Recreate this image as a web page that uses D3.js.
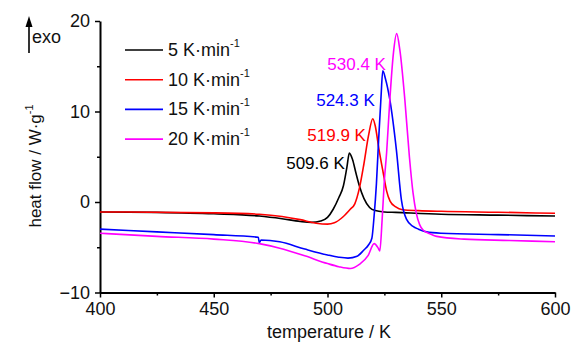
<!DOCTYPE html>
<html>
<head>
<meta charset="utf-8">
<script src="https://cdn.jsdelivr.net/npm/d3@7"></script>
<style>
  body { margin: 0; background: #fff; }
  svg { display: block; font-family: "Liberation Sans", Arial, sans-serif; }
</style>
</head>
<body>
<svg id="chart" width="579" height="343"></svg>
<script>
// heating rates (legend) and colours
var rates = ["5", "10", "15", "20"];
var colors = ["#000000", "#ff0000", "#0000ff", "#ff00ff"];

// DSC curves, [temperature K, heat flow W/g]
var rate5 = [
  [400,-1.1],[425,-1.15],[450,-1.3],[470,-1.55],[480,-1.85],[488,-2.15],[493,-2.25],
  [497,-2.1],[500,-1.7],[502.5,-0.8],[505,0.5],[507,1.8],[508.5,3.8],[509.6,5.4],
  [511,4.7],[512.5,3.2],[514,1.8],[516,0.4],[518.5,-0.6],[521,-0.95],[525,-1.1],
  [530,-1.15],[550,-1.35],[575,-1.45],[600,-1.55]
];
var rate10 = [
  [400,-1.1],[450,-1.2],[470,-1.35],[480,-1.6],[488,-1.95],[495,-2.35],[500,-2.45],
  [503,-2.3],[507,-1.6],[510,-0.8],[512,-0.2],[514,1.5],[516,4.2],[518,7.3],[519.9,9.2],
  [521,8.4],[522.5,6.0],[524.5,3.2],[526,1.2],[527.5,0.1],[530,-0.55],[533,-0.85],
  [540,-0.95],[550,-1.03],[575,-1.13],[600,-1.25]
];
var rate15 = [
  [400,-3.0],[425,-3.3],[450,-3.6],[469.6,-3.9],[470,-4.5],[470.8,-4.2],[479,-4.4],
  [490,-5.2],[500,-5.85],[505,-6.1],[509,-6.2],[513,-6.0],[516,-5.3],[518,-4.75],
  [519.5,-4.0],[520.5,-1.5],[521.5,2.0],[522.5,7.0],[523.5,11.5],[524.3,14.5],
  [525.5,13.6],[527.4,11.3],[530.3,5.7],[532.5,0.2],[534.7,-1.9],[537.6,-2.7],
  [540,-3.0],[543.5,-3.3],[550,-3.45],[575,-3.6],[600,-3.75]
];
var rate20 = [
  [400,-3.45],[425,-3.8],[450,-4.1],[470,-4.6],[479,-5.1],[490,-5.95],[500,-6.8],
  [505,-7.15],[510,-7.35],[514,-6.9],[517.9,-5.9],[520.5,-4.6],[522.3,-5.1],[523,-5.4],
  [524,-2.0],[525,2.4],[526,5.5],[527.4,11.3],[529,16.5],[530.4,18.6],[531.8,16.8],
  [534,11.3],[536,5.0],[537.6,1.0],[539,-1.2],[540.5,-2.5],[542,-3.1],[545,-3.5],
  [548,-3.8],[560,-4.1],[580,-4.25],[600,-4.4]
];
var series = [rate5, rate10, rate15, rate20];

// peak temperature labels, anchored (text end) in data space
var peakLabels = ["509.6 K", "519.9 K", "524.3 K", "530.4 K"];
var peakLabelAt = [[507.6,3.65],[516.9,6.74],[520.8,10.66],[525.7,14.6]];

var xTicks = [400, 450, 500, 550, 600];
var xMinor = [425, 475, 525, 575];
var yTicks = [-10, 0, 10, 20];
var yMinor = [-5, 5, 15];

var svg = d3.select("#chart");
var x = d3.scaleLinear().domain([400, 600]).range([100, 555]);
var y = d3.scaleLinear().domain([-10, 20]).range([292.5, 21]);

// minor ticks
svg.append("g")
  .attr("transform", "translate(0,292.5)")
  .call(d3.axisBottom(x).tickValues(xMinor).tickSize(3).tickSizeOuter(0).tickFormat(""))
  .call(function(g){ g.select(".domain").remove(); });
svg.append("g")
  .attr("transform", "translate(100,0)")
  .call(d3.axisLeft(y).tickValues(yMinor).tickSize(3).tickSizeOuter(0).tickFormat(""))
  .call(function(g){ g.select(".domain").remove(); });

// main axes
var gx = svg.append("g")
  .attr("transform", "translate(0,292.5)")
  .call(d3.axisBottom(x).tickValues(xTicks).tickSize(5).tickSizeOuter(0).tickPadding(5));
var gy = svg.append("g")
  .attr("transform", "translate(100,0)")
  .call(d3.axisLeft(y).tickValues(yTicks).tickSize(5).tickSizeOuter(0).tickPadding(5));

svg.selectAll(".tick line").attr("stroke", "#000").attr("stroke-width", 1.5);
svg.selectAll(".domain").attr("stroke", "#000").attr("stroke-width", 2);
gx.selectAll("text").attr("font-size", 18).attr("fill", "#111").attr("font-family", "Liberation Sans, Arial, sans-serif");
gy.selectAll("text").attr("font-size", 18).attr("fill", "#111").attr("font-family", "Liberation Sans, Arial, sans-serif");

// curves
var line = d3.line()
  .x(function(d){ return x(d[0]); })
  .y(function(d){ return y(d[1]); })
  .curve(d3.curveMonotoneX);

svg.append("g").selectAll("path")
  .data(series)
  .enter().append("path")
  .attr("d", line)
  .attr("fill", "none")
  .attr("stroke", function(d, i){ return colors[i]; })
  .attr("stroke-width", 1.6);

// peak labels
svg.append("g").selectAll("text")
  .data(peakLabels)
  .enter().append("text")
  .attr("x", function(d, i){ return x(peakLabelAt[i][0]); })
  .attr("y", function(d, i){ return y(peakLabelAt[i][1]); })
  .attr("text-anchor", "end")
  .attr("font-size", 17)
  .attr("fill", function(d, i){ return colors[i]; })
  .text(function(d){ return d; });

// legend
var leg = svg.append("g").selectAll("g")
  .data(rates)
  .enter().append("g")
  .attr("transform", function(d, i){ return "translate(125," + (50 + i * 29.7) + ")"; });
leg.append("line")
  .attr("x1", 0).attr("x2", 38)
  .attr("stroke", function(d, i){ return colors[i]; })
  .attr("stroke-width", 1.6);
var lt = leg.append("text")
  .attr("x", 43).attr("y", 6)
  .attr("font-size", 18)
  .attr("fill", "#111");
lt.append("tspan").text(function(d){ return d + " K\u00b7min"; });
lt.append("tspan").attr("dy", -9).attr("font-size", 11).text("-1");

// axis titles
svg.append("text")
  .attr("x", 329).attr("y", 338)
  .attr("text-anchor", "middle")
  .attr("font-size", 18)
  .attr("fill", "#111")
  .text("temperature / K");

var yl = svg.append("text")
  .attr("transform", "translate(41,166) rotate(-90)")
  .attr("text-anchor", "middle")
  .attr("font-size", 17)
  .attr("fill", "#111");
yl.append("tspan").text("heat flow / W\u00b7g");
yl.append("tspan").attr("dy", -8).attr("font-size", 11).text("-1");

// exo arrow
svg.append("line")
  .attr("x1", 29).attr("x2", 29).attr("y1", 53).attr("y2", 24)
  .attr("stroke", "#000").attr("stroke-width", 1.6);
svg.append("path")
  .attr("d", "M29,16 L25.5,27 L32.5,27 Z")
  .attr("fill", "#000");
svg.append("text")
  .attr("x", 32).attr("y", 43)
  .attr("font-size", 18)
  .attr("fill", "#111")
  .text("exo");
</script>
</body>
</html>
